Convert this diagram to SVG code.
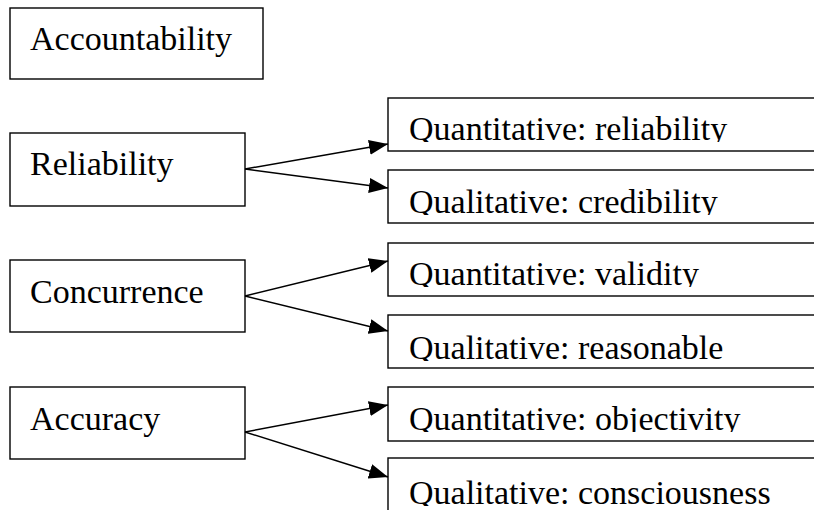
<svg xmlns="http://www.w3.org/2000/svg" width="814" height="510" viewBox="0 0 814 510">
  <style>
    .box { fill: #ffffff; stroke: #000000; stroke-width: 1.4; }
    .lbl { font-family: "Liberation Serif", "Times New Roman", serif; font-size: 34px; fill: #000000; }
    .edge { stroke: #000000; stroke-width: 1.5; fill: none; marker-end: url(#head); }
  </style>
  <defs>
    <marker id="head" markerUnits="userSpaceOnUse" markerWidth="20" markerHeight="16" refX="19" refY="7.5" orient="auto">
      <path d="M0,0 L19,7.5 L0,15 Z" fill="#000000"/>
    </marker>
    <!-- text areas of the right-hand boxes are cut just below the baseline -->
    <clipPath id="c1"><rect x="389" y="99" width="430" height="43"/></clipPath>
    <clipPath id="c2"><rect x="389" y="171" width="430" height="44"/></clipPath>
    <clipPath id="c3"><rect x="389" y="244" width="430" height="43"/></clipPath>
    <clipPath id="c4"><rect x="389" y="316" width="430" height="45"/></clipPath>
    <clipPath id="c5"><rect x="389" y="388" width="430" height="44"/></clipPath>
    <clipPath id="c6"><rect x="389" y="459" width="430" height="47"/></clipPath>
  </defs>

  <rect width="814" height="510" fill="#ffffff"/>

  <g id="accountability">
    <rect class="box" x="10" y="8" width="253" height="71"/>
    <text class="lbl" x="30" y="50">Accountability</text>
  </g>

  <g id="reliability">
    <rect class="box" x="10" y="133" width="235" height="73"/>
    <text class="lbl" x="30" y="175">Reliability</text>
  </g>

  <g id="concurrence">
    <rect class="box" x="10" y="260" width="235" height="72"/>
    <text class="lbl" x="30" y="303">Concurrence</text>
  </g>

  <g id="accuracy">
    <rect class="box" x="10" y="387" width="235" height="72"/>
    <text class="lbl" x="30" y="430">Accuracy</text>
  </g>

  <g id="quant-reliability">
    <rect class="box" x="388" y="98" width="440" height="53"/>
    <text class="lbl" x="409" y="140" clip-path="url(#c1)">Quantitative: reliability</text>
  </g>

  <g id="qual-credibility">
    <rect class="box" x="388" y="170" width="440" height="53"/>
    <text class="lbl" x="409" y="213" clip-path="url(#c2)">Qualitative: credibility</text>
  </g>

  <g id="quant-validity">
    <rect class="box" x="388" y="243" width="440" height="53"/>
    <text class="lbl" x="409" y="285" clip-path="url(#c3)">Quantitative: validity</text>
  </g>

  <g id="qual-reasonable">
    <rect class="box" x="388" y="315" width="440" height="53"/>
    <text class="lbl" x="409" y="359" clip-path="url(#c4)">Qualitative: reasonable</text>
  </g>

  <g id="quant-objectivity">
    <rect class="box" x="388" y="387" width="440" height="54"/>
    <text class="lbl" x="409" y="430" clip-path="url(#c5)">Quantitative: objectivity</text>
  </g>

  <g id="qual-consciousness">
    <rect class="box" x="388" y="458" width="440" height="70"/>
    <text class="lbl" x="409" y="504" clip-path="url(#c6)">Qualitative: consciousness</text>
  </g>

  <g id="connectors">
    <line class="edge" x1="245" y1="169" x2="388" y2="144"/>
    <line class="edge" x1="245" y1="169" x2="388" y2="188"/>
    <line class="edge" x1="245" y1="296" x2="388" y2="261"/>
    <line class="edge" x1="245" y1="296" x2="388" y2="331"/>
    <line class="edge" x1="245" y1="432" x2="388" y2="405"/>
    <line class="edge" x1="245" y1="432" x2="388" y2="477"/>
  </g>
</svg>
